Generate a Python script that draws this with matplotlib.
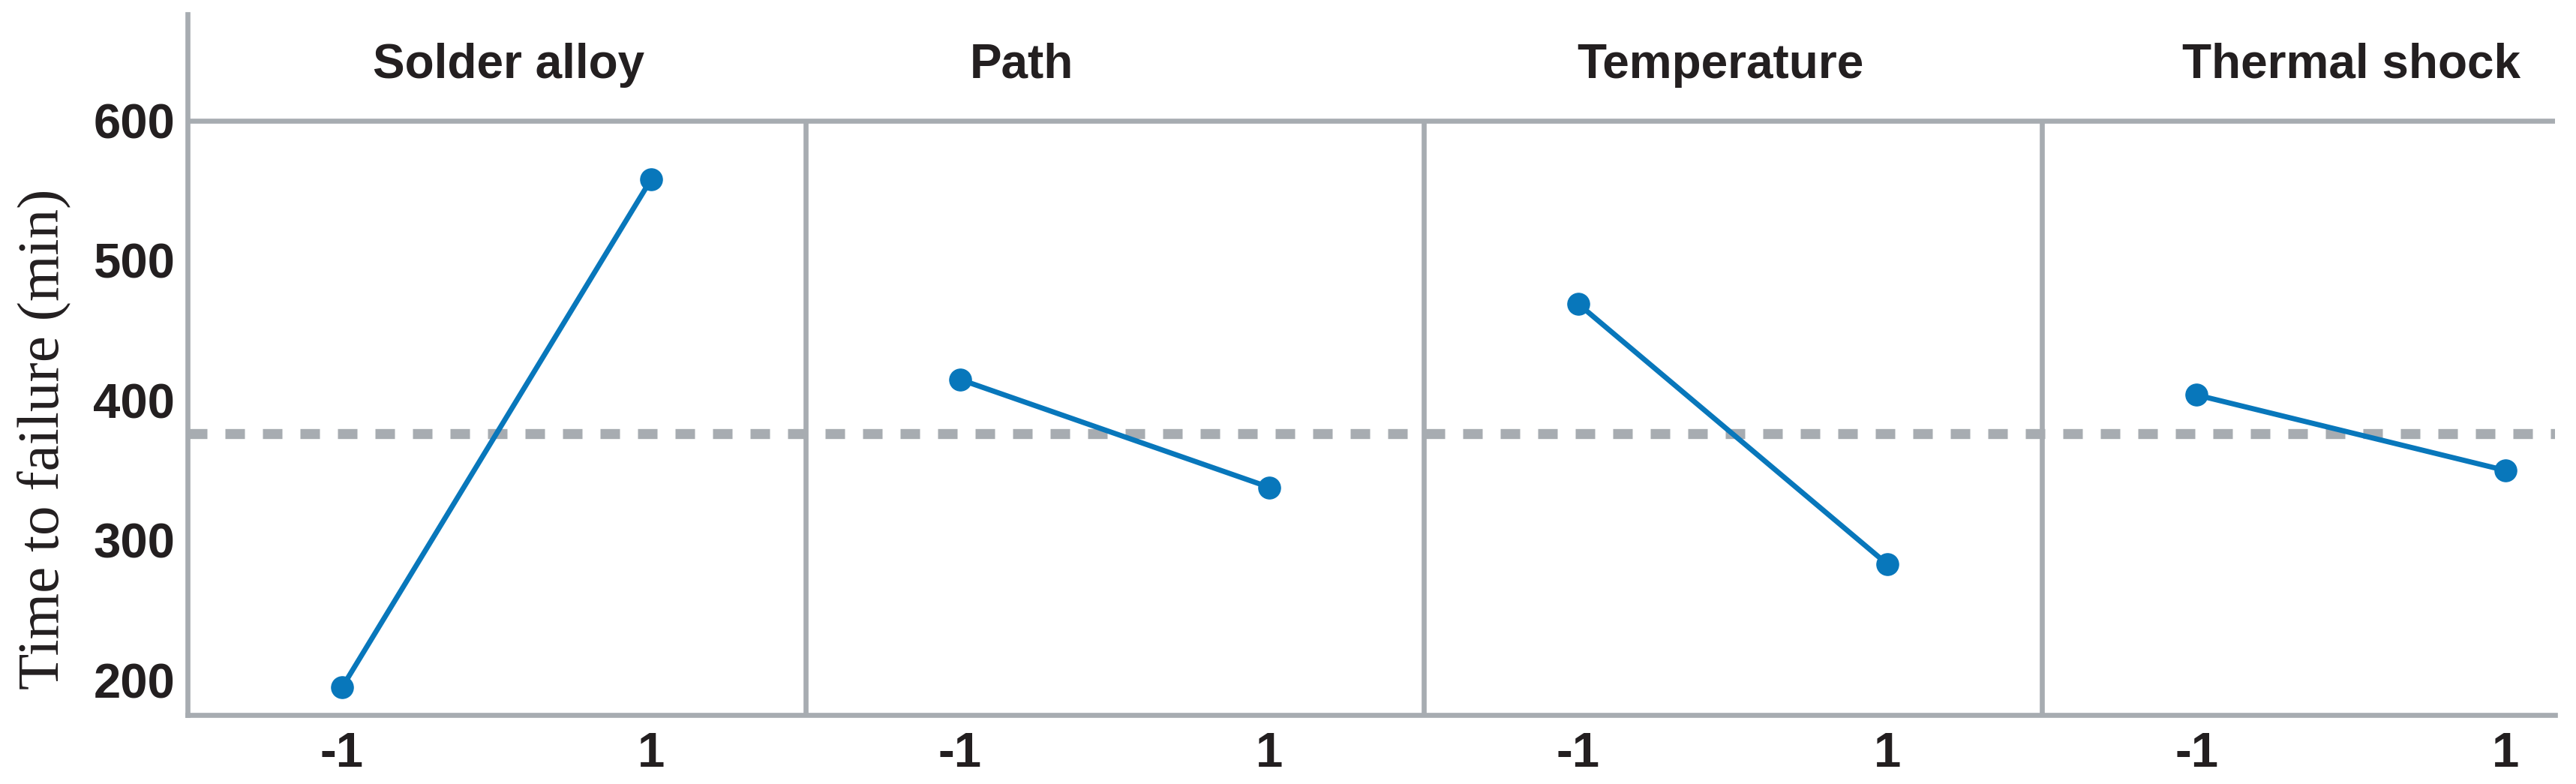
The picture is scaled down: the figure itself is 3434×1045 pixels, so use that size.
import matplotlib
matplotlib.use("Agg")
import matplotlib.pyplot as plt

# ---- data ----
factors = ["Solder alloy", "Path", "Temperature", "Thermal shock"]
level_labels = ["-1", "1"]
low_means = [195, 415, 469, 404]
high_means = [558, 338, 283, 350]
grand_mean = 376.5
y_ticks = [200, 300, 400, 500, 600]

# ---- style ----
BLUE = "#0877bb"
GRAY = "#a7acb1"
TXT = "#231f20"
W, H, DPI = 3434, 1045, 100

fig = plt.figure(figsize=(W / DPI, H / DPI), dpi=DPI)
ax = fig.add_axes([250 / W, 1 - 953 / H, (3406 - 250) / W, (953 - 19) / H])

n = len(factors)
ymin, ytop, yframe = 175.3, 676, 600
ax.set_xlim(-0.5, 2 * n - 1 + 0.16)
ax.set_ylim(ymin, ytop)

# grand mean dashed line
ax.axhline(grand_mean, color=GRAY, lw=9.6, linestyle=(0, (1.95, 1.8)),
           dash_capstyle="butt", zorder=2.5)

# frame: top line at 600 and dividers
ax.axhline(yframe, color=GRAY, lw=4.8, zorder=2)
for i in range(1, n):
    ax.plot([2 * i - 0.5, 2 * i - 0.5], [ymin, yframe], color=GRAY, lw=4.8,
            zorder=2, solid_capstyle="butt")

# main effect lines
for i in range(n):
    xs = [2 * i, 2 * i + 1]
    ax.plot(xs, [low_means[i], high_means[i]], color=BLUE, lw=5.0,
            marker="o", markersize=21, zorder=3)

# factor titles
title_x = [0.54, 2.2, 4.46, 6.5]
for name, tx in zip(factors, title_x):
    ax.text(tx, 630.7, name, ha="center", va="baseline", fontsize=46,
            fontweight="bold", family="Liberation Sans", color=TXT)

# axes / ticks
for s in ["top", "right"]:
    ax.spines[s].set_visible(False)
for s in ["left", "bottom"]:
    ax.spines[s].set_color(GRAY)
    ax.spines[s].set_linewidth(4.8)

ax.set_xticks(range(2 * n))
ax.set_xticklabels(level_labels * n)
ax.set_yticks(y_ticks)
ax.set_yticklabels([str(v) for v in y_ticks])
ax.tick_params(axis="both", length=0, labelsize=47, labelcolor=TXT)
ax.tick_params(axis="y", pad=12)
ax.tick_params(axis="x", pad=16)
for lab in ax.get_xticklabels() + ax.get_yticklabels():
    lab.set_fontweight("bold")
    lab.set_family("Liberation Sans")

ax.set_ylabel("Time to failure (min)", fontsize=57, family="Liberation Serif",
              color=TXT)
ax.yaxis.set_label_coords(-(250 - 58) / (3406 - 250), (953 - 585) / (953 - 19))
ax.yaxis.label.set_va("center")

fig.savefig("out.png", dpi=DPI, facecolor="white")
